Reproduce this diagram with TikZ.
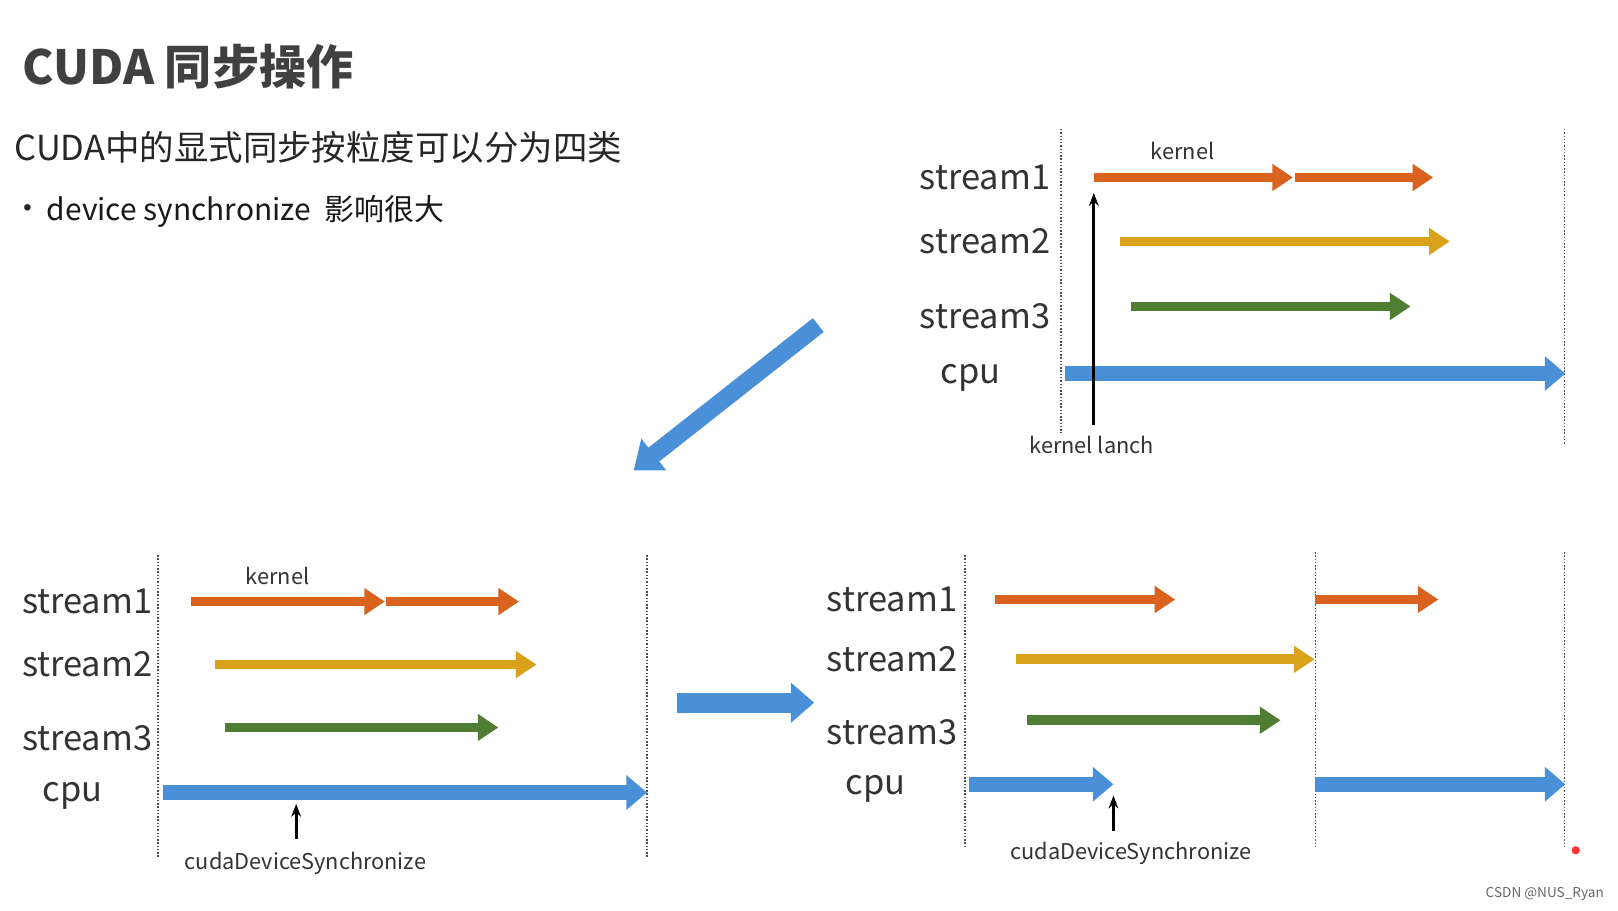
\documentclass[tikz,border=0pt]{standalone}
\usepackage{fontspec}
\setmainfont{Noto Sans CJK SC}
\usetikzlibrary{arrows.meta}
\definecolor{cor}{HTML}{D9621E}
\definecolor{cye}{HTML}{D9A21A}
\definecolor{cgr}{HTML}{4E7D33}
\definecolor{cbl}{HTML}{4A90D9}
\begin{document}
\begin{tikzpicture}[x=0.02cm,y=-0.02cm,
 bar/.style={line width=0.19cm,-{Triangle[length=0.4cm,width=0.5cm]}},
 cbar/.style={bar,cbl,line width=0.3cm,-{Triangle[length=0.4cm,width=0.65cm]}},
 dl/.style={densely dotted,line width=0.8pt,black!70},
 lab/.style={font=\fontsize{19}{19}\selectfont,text=black!80,anchor=east,inner sep=0},
 sm/.style={font=\fontsize{12}{12}\selectfont,text=black!80,inner sep=0},
 up/.style={line width=1.5pt,-{Stealth[length=0.25cm]}}]
\useasboundingbox (0,0) rectangle (1568,882);
\fill[white] (0,0) rectangle (1568,882);
\node[anchor=west,font=\bfseries\fontsize{26}{26}\selectfont,text=black!75] (t) at (16,65) {CUDA 同步操作};
\node[anchor=west,font=\fontsize{19}{19}\selectfont,text=black!85] (s) at (8,143) {CUDA中的显式同步按粒度可以分为四类};
\node[anchor=west,font=\fontsize{17}{17}\selectfont,text=black!85,inner sep=0] (bu) at (12,205) {•};
\node[anchor=west,font=\fontsize{16.5}{16.5}\selectfont,text=black!90,inner sep=0] (b) at (45,205) {device synchronize\ \ 影响很大};
% top right
\draw[dl] (1028,125) -- (1028,420); \draw[dl] (1516,125) -- (1516,430);
\node[lab] (l1) at (1018,172) {stream1};
\node[lab] (l2) at (1018,234) {stream2};
\node[lab] (l3) at (1018,306) {stream3};
\node[lab] (l4) at (970,366) {cpu};
\coordinate (a1) at (1060,172); \coordinate (a2) at (1253,172);
\coordinate (a3) at (1255,172); \coordinate (a4) at (1389,172);
\draw[bar,cor] (a1) -- (a2); \draw[bar,cor] (a3) -- (a4);
\coordinate (b1) at (1085,234); \coordinate (b2) at (1405,234); \draw[bar,cye] (b1) -- (b2);
\coordinate (c1) at (1096,297); \coordinate (c2) at (1367,297); \draw[bar,cgr] (c1) -- (c2);
\coordinate (d1) at (1032,362); \coordinate (d2) at (1517,362); \draw[cbar] (d1) -- (d2);
\node[sm] (k1) at (1146,146) {kernel};
\node[sm] (kl) at (1058,431) {kernel lanch};
\coordinate (e1) at (1060,412); \coordinate (e2) at (1060,187); \draw[up] (e1) -- (e2);
% diagonal
\coordinate (f1) at (793,315); \coordinate (f2) at (614,456);
\draw[cbl,line width=0.34cm,-{Triangle[length=0.5cm,width=0.75cm]}] (f1) -- (f2);
% bottom left
\draw[dl] (153,538) -- (153,832); \draw[dl] (627,538) -- (627,832);
\node[lab] (m1) at (148,583) {stream1};
\node[lab] (m2) at (148,644) {stream2};
\node[lab] (m3) at (148,715) {stream3};
\node[lab] (m4) at (100,771) {cpu};
\coordinate (g1) at (185,583); \coordinate (g2) at (373,583);
\coordinate (g3) at (374,583); \coordinate (g4) at (503,583);
\draw[bar,cor] (g1) -- (g2); \draw[bar,cor] (g3) -- (g4);
\coordinate (h1) at (208,644); \coordinate (h2) at (520,644); \draw[bar,cye] (h1) -- (h2);
\coordinate (i1) at (218,705); \coordinate (i2) at (483,705); \draw[bar,cgr] (i1) -- (i2);
\coordinate (j1) at (158,768); \coordinate (j2) at (627,768); \draw[cbar] (j1) -- (j2);
\node[sm] (k2) at (269,558) {kernel};
\node[sm] (cs1) at (296,837) {cudaDeviceSynchronize};
\coordinate (u1) at (287,813); \coordinate (u2) at (287,779); \draw[up] (u1) -- (u2);
% middle arrow
\coordinate (n1) at (656,681); \coordinate (n2) at (789,681);
\draw[cbl,line width=0.38cm,-{Triangle[length=0.45cm,width=0.75cm]}] (n1) -- (n2);
% bottom right
\draw[dl] (935,538) -- (935,822); \draw[dl] (1275,535) -- (1275,822); \draw[dl] (1516,535) -- (1516,822);
\node[lab] (r1) at (928,581) {stream1};
\node[lab] (r2) at (928,639) {stream2};
\node[lab] (r3) at (928,710) {stream3};
\node[lab] (r4) at (878,764) {cpu};
\coordinate (o1) at (964,581); \coordinate (o2) at (1139,581); \draw[bar,cor] (o1) -- (o2);
\coordinate (o3) at (1274,581); \coordinate (o4) at (1394,581); \draw[bar,cor] (o3) -- (o4);
\coordinate (p1) at (985,639); \coordinate (p2) at (1274,639); \draw[bar,cye] (p1) -- (p2);
\coordinate (q1) at (995,698); \coordinate (q2) at (1241,698); \draw[bar,cgr] (q1) -- (q2);
\coordinate (v1) at (939,760); \coordinate (v2) at (1079,760); \draw[cbar] (v1) -- (v2);
\coordinate (v3) at (1274,760); \coordinate (v4) at (1517,760); \draw[cbar] (v3) -- (v4);
\node[sm] (cs2) at (1096,827) {cudaDeviceSynchronize};
\coordinate (w1) at (1079,805); \coordinate (w2) at (1079,771); \draw[up] (w1) -- (w2);
\fill[red!80] (1527,824) circle (4);
\node[font=\fontsize{7.5}{7.5}\selectfont,text=black!60] (wm) at (1497,866) {CSDN @NUS\_Ryan};
\end{tikzpicture}
\end{document}
